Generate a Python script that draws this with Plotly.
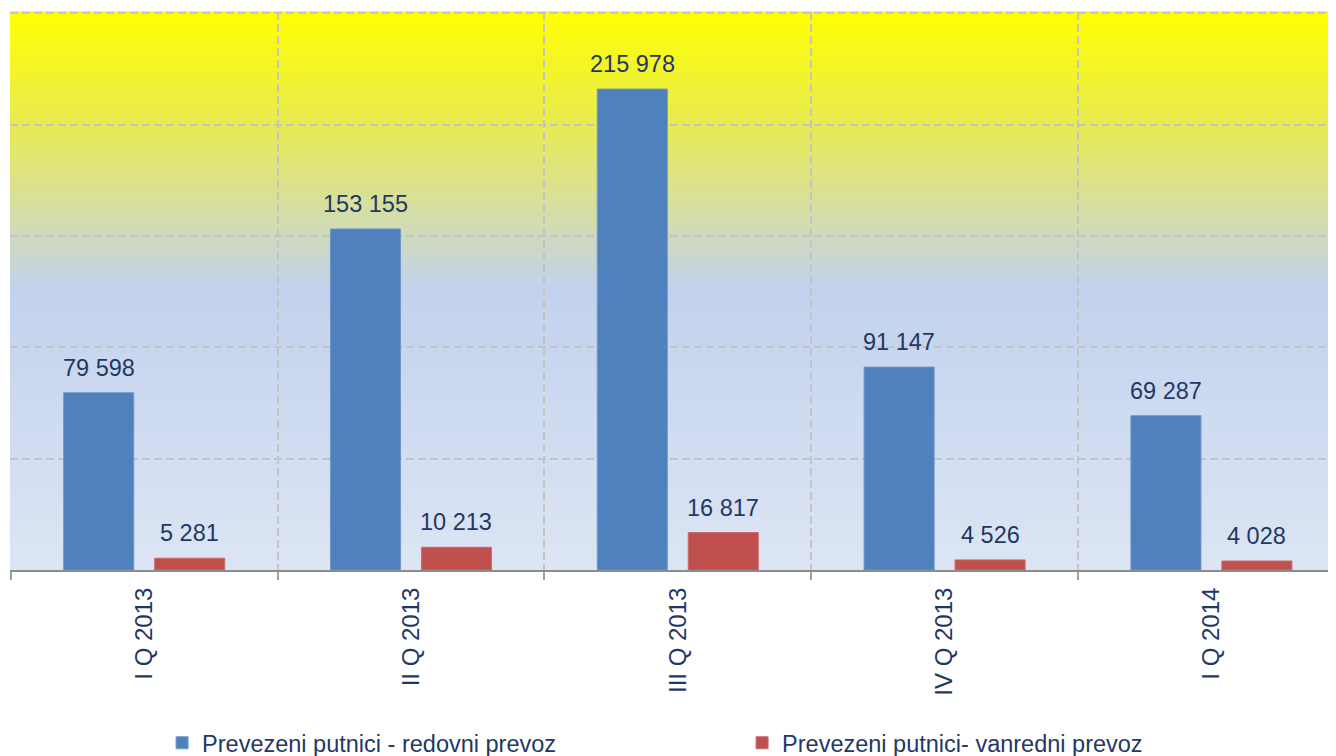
import plotly.graph_objects as go

categories = ["I Q 2013", "II Q 2013", "III Q 2013", "IV Q 2013", "I Q 2014"]
redovni = [79598, 153155, 215978, 91147, 69287]
vanredni = [5281, 10213, 16817, 4526, 4028]
series_names = ["Prevezeni putnici - redovni prevoz", "Prevezeni putnici- vanredni prevoz"]

TEXT = "#1F3864"
FONT = "Liberation Sans, Arial, sans-serif"
BARGAP = 0.318
GROUPGAP = 0.23

fig = go.Figure()
fig.add_trace(go.Bar(x=categories, y=redovni, name=series_names[0],
                     marker=dict(color="#4F81BD", line=dict(color="#6F97C8", width=1))))
fig.add_trace(go.Bar(x=categories, y=vanredni, name=series_names[1],
                     marker=dict(color="#C0504D", line=dict(color="#CD6B68", width=1))))

def fmt(v):
    return f"{v:,}".replace(",", " ")

slot = (1 - BARGAP) / 2
annotations = []
for i, cat in enumerate(categories):
    for vals, sign in ((redovni, -1), (vanredni, 1)):
        annotations.append(dict(x=i + sign * slot / 2, y=vals[i], xref="x", yref="y",
                                text=fmt(vals[i]), showarrow=False, yanchor="middle",
                                yshift=25, font=dict(size=23.5, color=TEXT, family=FONT)))

# background gradient (fraction from top, color)
stops = [(0.0, (255, 255, 0)), (0.2, (232, 235, 80)), (0.34, (216, 224, 155)),
         (0.42, (204, 216, 196)), (0.5, (194, 210, 238)), (1.0, (221, 229, 243))]

def col_at(t):
    for (t0, c0), (t1, c1) in zip(stops[:-1], stops[1:]):
        if t0 <= t <= t1:
            f = (t - t0) / (t1 - t0)
            return "rgb(%d,%d,%d)" % tuple(round(a + (b - a) * f) for a, b in zip(c0, c1))
    return "rgb(%d,%d,%d)" % stops[-1][1]

N = 140
shapes = []
for i in range(N):
    t = (i + 0.5) / N
    shapes.append(dict(type="rect", xref="x domain", yref="y domain",
                       x0=0, x1=1, y0=1 - (i + 1) / N, y1=1 - i / N + 0.002,
                       fillcolor=col_at(t), line=dict(width=0), layer="below"))

fig.update_layout(
    width=1336, height=756,
    margin=dict(l=2, r=0, t=4, b=194, autoexpand=False),
    paper_bgcolor="white", plot_bgcolor="rgba(0,0,0,0)",
    bargap=BARGAP, bargroupgap=GROUPGAP,
    shapes=shapes, annotations=annotations,
    font=dict(family=FONT, color=TEXT, size=23.5),
    showlegend=True,
    legend=dict(orientation="h", x=0.114, xanchor="left", y=-0.31, yanchor="middle",
                entrywidth=535, entrywidthmode="pixels",
                font=dict(size=23.5, color=TEXT, family=FONT), bgcolor="rgba(0,0,0,0)"),
    xaxis=dict(type="category", range=[-0.503, 4.497], tickson="boundaries", automargin=False,
               showgrid=True, gridcolor="#C4C4C4", griddash="8px,4px", gridwidth=1.5,
               ticks="outside", ticklen=8, tickcolor="#A0A0A0", tickwidth=1.5,
               ticklabelstandoff=6,
               showline=True, linecolor="#8C8C8C", linewidth=2,
               tickangle=-90, tickfont=dict(size=24, color=TEXT, family=FONT)),
    yaxis=dict(range=[0, 250600], dtick=50000, showgrid=True, gridcolor="#C4C4C4", automargin=False,
               griddash="8px,4px", gridwidth=1.5, showticklabels=False, zeroline=False,
               showline=False),
)

fig.write_html("out.html")
